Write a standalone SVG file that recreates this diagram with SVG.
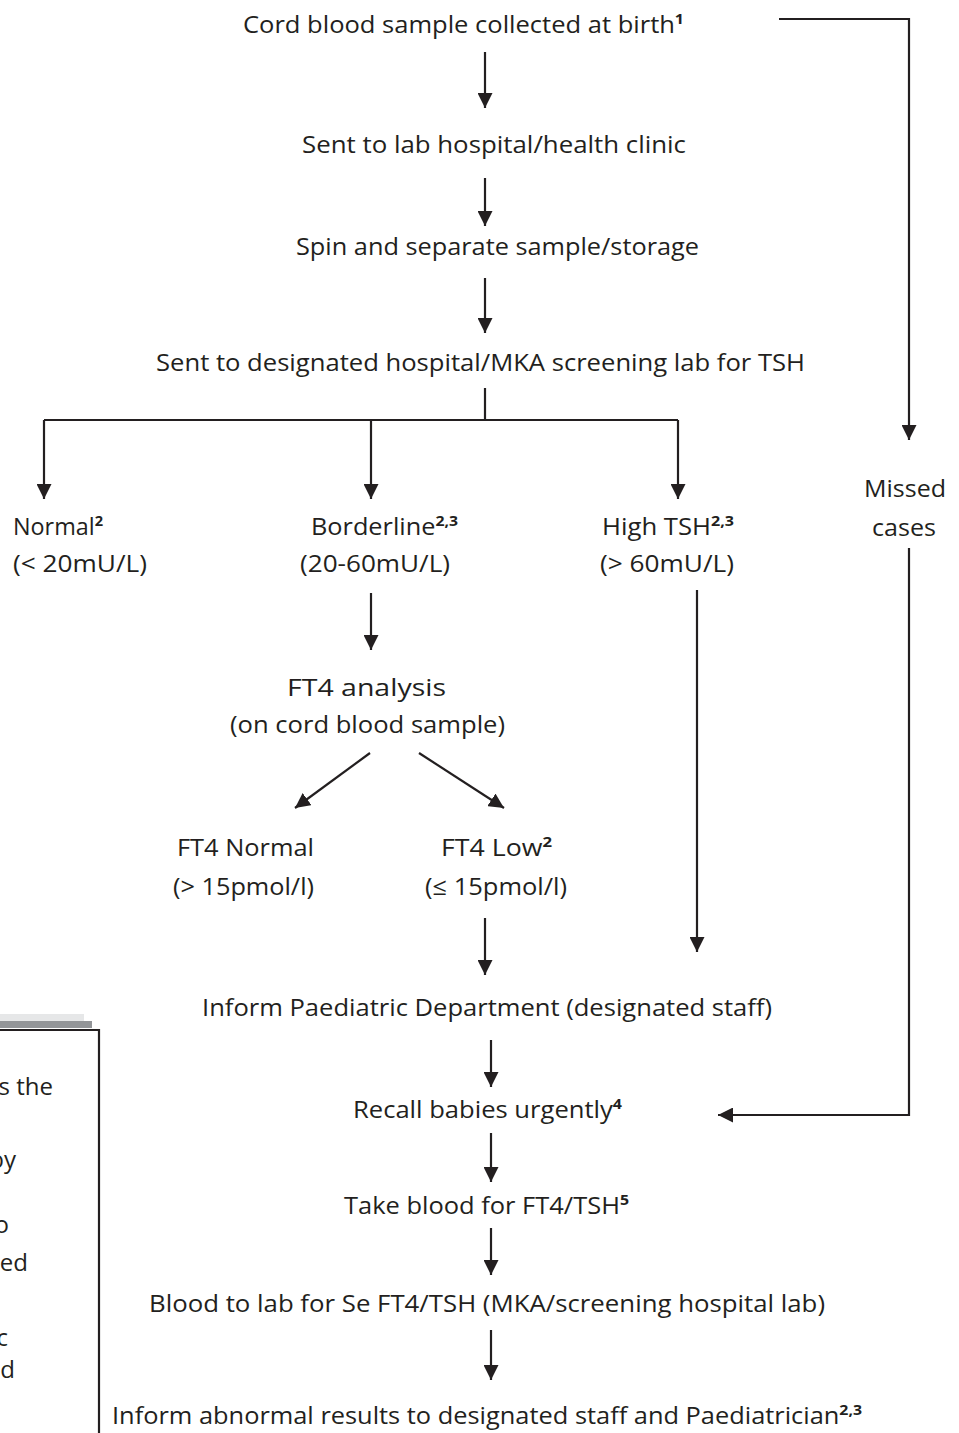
<svg xmlns="http://www.w3.org/2000/svg" width="959" height="1433" viewBox="0 0 959 1433">
<defs>
<style>
text{font-family:"Open Sans","Noto Sans","Liberation Sans",sans-serif;font-size:24px;fill:#231f20}
.c{text-anchor:middle}
.e{text-anchor:end}
.sup{font-size:15px;font-weight:bold}
.ln{fill:none;stroke:#231f20;stroke-width:2.2}
.ar{marker-end:url(#ah)}
</style>
<marker id="ah" viewBox="0 0 15 15" refX="15" refY="7.5" markerWidth="15" markerHeight="15" markerUnits="userSpaceOnUse" orient="auto">
<path d="M0,0 L15,7.5 L0,15 z" fill="#231f20"/>
</marker>
</defs>
<rect width="959" height="1433" fill="#fff"/>

<g id="legend-box">
<rect x="0" y="1014" width="84" height="8" fill="#e6e7e8"/>
<rect x="0" y="1021" width="92" height="7" fill="#939598"/>
<path class="ln" d="M0,1030 H99 V1433"/>
<text class="e" x="53" y="1095">s the</text>
<text class="e" x="16" y="1168">by</text>
<text class="e" x="9" y="1233">o</text>
<text class="e" x="28" y="1271">ed</text>
<text class="e" x="8" y="1346">c</text>
<text class="e" x="15" y="1378">d</text>
</g>

<g id="connectors">
<path class="ln ar" d="M485,52 V108"/>
<path class="ln ar" d="M485,178 V226"/>
<path class="ln ar" d="M485,278 V333"/>
<path class="ln" d="M485,388 V420 M44,420 H678"/>
<path class="ln ar" d="M44,420 V499"/>
<path class="ln ar" d="M371,420 V499"/>
<path class="ln ar" d="M678,420 V499"/>
<path class="ln ar" d="M779,19 H909 V440"/>
<path class="ln ar" d="M909,548 V1115 H718"/>
<path class="ln ar" d="M371,593 V650"/>
<path class="ln ar" d="M370,753 L295,808"/>
<path class="ln ar" d="M419,753 L504,808"/>
<path class="ln ar" d="M485,918 V975"/>
<path class="ln ar" d="M697,590 V952"/>
<path class="ln ar" d="M491,1040 V1087"/>
<path class="ln ar" d="M491,1133 V1182"/>
<path class="ln ar" d="M491,1228 V1275"/>
<path class="ln ar" d="M491,1330 V1380"/>
</g>

<g id="n-cord"><text x="243" y="33" textLength="441" lengthAdjust="spacingAndGlyphs">Cord blood sample collected at birth<tspan class="sup" dy="-9">1</tspan></text></g>
<g id="n-sent-lab"><text x="302" y="153" textLength="384" lengthAdjust="spacingAndGlyphs">Sent to lab hospital/health clinic</text></g>
<g id="n-spin"><text x="296" y="255" textLength="403" lengthAdjust="spacingAndGlyphs">Spin and separate sample/storage</text></g>
<g id="n-sent-designated"><text x="156" y="371" textLength="649" lengthAdjust="spacingAndGlyphs">Sent to designated hospital/MKA screening lab for TSH</text></g>
<g id="n-missed">
<text x="864" y="497" textLength="82" lengthAdjust="spacingAndGlyphs">Missed</text>
<text x="872" y="536" textLength="64" lengthAdjust="spacingAndGlyphs">cases</text>
</g>
<g id="n-normal">
<text x="13" y="535" textLength="90" lengthAdjust="spacingAndGlyphs">Normal<tspan class="sup" dy="-9">2</tspan></text>
<text x="13" y="572" textLength="134" lengthAdjust="spacingAndGlyphs">(&lt; 20mU/L)</text>
</g>
<g id="n-borderline">
<text x="311" y="535" textLength="147" lengthAdjust="spacingAndGlyphs">Borderline<tspan class="sup" dy="-9">2,3</tspan></text>
<text x="300" y="572" textLength="150" lengthAdjust="spacingAndGlyphs">(20-60mU/L)</text>
</g>
<g id="n-high">
<text x="602" y="535" textLength="132" lengthAdjust="spacingAndGlyphs">High TSH<tspan class="sup" dy="-9">2,3</tspan></text>
<text x="600" y="572" textLength="134" lengthAdjust="spacingAndGlyphs">(&gt; 60mU/L)</text>
</g>
<g id="n-ft4-analysis">
<text x="287" y="696" textLength="159" lengthAdjust="spacingAndGlyphs">FT4 analysis</text>
<text x="230" y="733" textLength="275" lengthAdjust="spacingAndGlyphs">(on cord blood sample)</text>
</g>
<g id="n-ft4-normal">
<text x="177" y="856" textLength="137" lengthAdjust="spacingAndGlyphs">FT4 Normal</text>
<text x="173" y="895" textLength="141" lengthAdjust="spacingAndGlyphs">(&gt; 15pmol/l)</text>
</g>
<g id="n-ft4-low">
<text x="441" y="856" textLength="111" lengthAdjust="spacingAndGlyphs">FT4 Low<tspan class="sup" dy="-9">2</tspan></text>
<text x="425" y="895" textLength="142" lengthAdjust="spacingAndGlyphs">(≤ 15pmol/l)</text>
</g>
<g id="n-inform-paed"><text x="202" y="1016" textLength="570" lengthAdjust="spacingAndGlyphs">Inform Paediatric Department (designated staff)</text></g>
<g id="n-recall"><text x="353" y="1118" textLength="269" lengthAdjust="spacingAndGlyphs">Recall babies urgently<tspan class="sup" dy="-9">4</tspan></text></g>
<g id="n-take-blood"><text x="344" y="1214" textLength="285" lengthAdjust="spacingAndGlyphs">Take blood for FT4/TSH<tspan class="sup" dy="-9">5</tspan></text></g>
<g id="n-blood-lab"><text x="149" y="1312" textLength="676" lengthAdjust="spacingAndGlyphs">Blood to lab for Se FT4/TSH (MKA/screening hospital lab)</text></g>
<g id="n-inform-abnormal"><text x="112" y="1424" textLength="750" lengthAdjust="spacingAndGlyphs">Inform abnormal results to designated staff and Paediatrician<tspan class="sup" dy="-9">2,3</tspan></text></g>
</svg>
